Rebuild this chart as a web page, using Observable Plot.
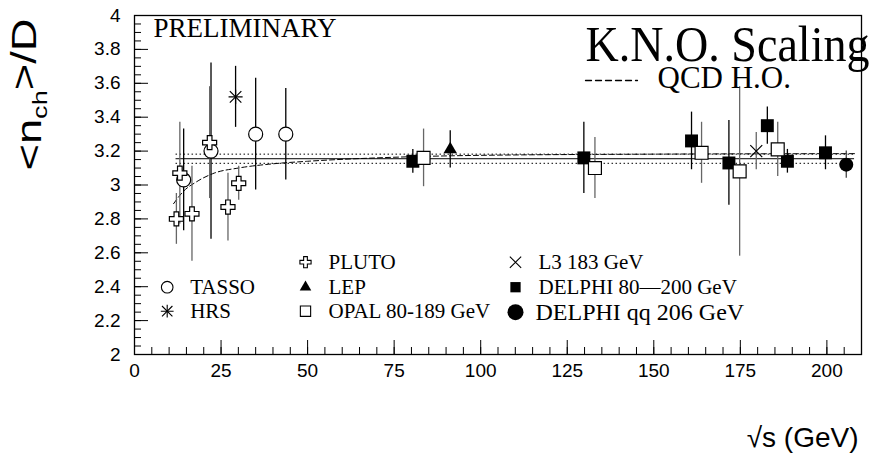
<!DOCTYPE html>
<html>
<head>
<meta charset="utf-8">
<script src="https://cdn.jsdelivr.net/npm/d3@7"></script>
<script src="https://cdn.jsdelivr.net/npm/@observablehq/plot@0.6"></script>
<style>
  html, body { margin: 0; padding: 0; background: #fff; }
  #chart svg { display: block; }
</style>
</head>
<body>
<div id="chart"></div>
<script>
// ---------- data ----------
const xTicks = [0, 25, 50, 75, 100, 125, 150, 175, 200];
const yTicks = [2, 2.2, 2.4, 2.6, 2.8, 3, 3.2, 3.4, 3.6, 3.8, 4];

const tassoX = [14.2, 22.1, 35, 43.7];
const tassoY = [3.03, 3.20, 3.30, 3.30];
const tassoErr = [0.30, 0.52, 0.33, 0.27];

const plutoX = [12.1, 13.1, 16.6, 21.7, 27.0, 30.1];
const plutoY = [2.80, 3.07, 2.83, 3.25, 2.87, 3.01];
const plutoErr = [0.15, 0.30, 0.28, 0.33, 0.20, 0.10];

const hrsX = [29.2];
const hrsY = [3.52];
const hrsErr = [0.18];

const lepX = [91.2];
const lepY = [3.21];
const lepErr = [0.11];

const delphiX = [80.4, 129.8, 160.9, 171.7, 182.8, 188.6, 199.6];
const delphiY = [3.14, 3.16, 3.26, 3.13, 3.35, 3.14, 3.19];
const delphiErr = [0.07, 0.21, 0.17, 0.25, 0.11, 0.07, 0.10];

const opalX = [83.5, 133.0, 163.8, 174.8, 185.8];
const opalY = [3.16, 3.10, 3.19, 3.08, 3.21];
const opalErr = [0.17, 0.18, 0.18, 0.50, 0.16];

const l3X = [179.6];
const l3Y = [3.20];
const l3Err = [0.11];

const qqX = [205.6];
const qqY = [3.12];
const qqErr = [0.08];

// constant fit (mean and its error band) and the QCD H.O. curve
const fitMean = 3.155;
const fitErr = 0.027;
const fitRange = [12, 208];
const qcdX = [11.3, 14, 18, 23, 30, 40, 50, 70, 100, 150, 208];
const qcdY = [2.89, 2.96, 3.02, 3.07, 3.10, 3.125, 3.14, 3.16, 3.175, 3.182, 3.185];

const legendLabels = ["TASSO", "HRS", "PLUTO", "LEP", "OPAL 80-189 GeV", "L3 183 GeV", "DELPHI 80\u2014200 GeV", "DELPHI qq 206 GeV"];

// ---------- build ----------
const W = 880, H = 463, mL = 134, mR = 19, mT = 15, mB = 109;
const plotW = W - mL - mR, plotH = H - mT - mB;
const rows = (xs, ys, es) => xs.map((x, i) => ({x, y: ys[i], e: es[i]}));
const serif = "Liberation Serif, Times New Roman, serif";
const sans = "Liberation Sans, Arial, Helvetica, sans-serif";

const series = [
  {name: "TASSO", data: rows(tassoX, tassoY, tassoErr), symbol: "circle", r: 7, fill: "white", stroke: "black", bar: "black"},
  {name: "PLUTO", data: rows(plutoX, plutoY, plutoErr), symbol: "cross", r: 5.9, fill: "white", stroke: "black", bar: "#666"},
  {name: "HRS", data: rows(hrsX, hrsY, hrsErr), symbol: "plus", r: 4.6, fill: "none", stroke: "black", bar: "black", extra: {symbol: "times", r: 5.3}},
  {name: "LEP", data: rows(lepX, lepY, lepErr), symbol: "triangle", r: 5, fill: "black", stroke: "none", bar: "black"},
  {name: "DELPHI", data: rows(delphiX, delphiY, delphiErr), symbol: "square", r: 7.3, fill: "black", stroke: "none", bar: "black"},
  {name: "OPAL", data: rows(opalX, opalY, opalErr), symbol: "square", r: 7.3, fill: "white", stroke: "black", bar: "#666"},
  {name: "L3", data: rows(l3X, l3Y, l3Err), symbol: "times", r: 5.5, fill: "none", stroke: "black", bar: "#666"},
  {name: "DELPHIqq", data: rows(qqX, qqY, qqErr), symbol: "circle", r: 7, fill: "black", stroke: "none", bar: "#444"}
];

const marks = [];

// fit lines and QCD curve
marks.push(Plot.ruleY([fitMean], {x1: fitRange[0], x2: fitRange[1], stroke: "black", strokeWidth: 1}));
marks.push(Plot.ruleY([fitMean - fitErr, fitMean + fitErr], {x1: fitRange[0], x2: fitRange[1], stroke: "black", strokeWidth: 1, strokeDasharray: "1.5,2.5"}));
marks.push(Plot.line(qcdX.map((x, i) => ({x, y: qcdY[i]})), {x: "x", y: "y", curve: "monotone-x", stroke: "black", strokeWidth: 1, strokeDasharray: "5,3"}));

// error bars then markers
for (const s of series) {
  marks.push(Plot.ruleX(s.data, {x: "x", y1: d => d.y - d.e, y2: d => d.y + d.e, stroke: s.bar, strokeWidth: 1.3}));
}
for (const s of series) {
  marks.push(Plot.dot(s.data, {x: "x", y: "y", symbol: s.symbol, r: s.r, fill: s.fill, stroke: s.stroke, strokeWidth: 1.2}));
  if (s.extra) marks.push(Plot.dot(s.data, {x: "x", y: "y", symbol: s.extra.symbol, r: s.extra.r, fill: "none", stroke: s.stroke, strokeWidth: 1.2}));
}

// ticks drawn inside the frame (major and minor)
const xMinor = d3.range(0, 211, 5);
const yMinor = d3.range(0, 41).map(i => 2 + i * 0.05);
marks.push(Plot.ruleX(xMinor, {x: d => d, insetTop: plotH - 7, stroke: "black", strokeWidth: 1}));
marks.push(Plot.ruleX(xTicks, {x: d => d, insetTop: plotH - 14, stroke: "black", strokeWidth: 1}));
marks.push(Plot.ruleY(yMinor, {y: d => d, insetRight: plotW - 7, stroke: "black", strokeWidth: 1}));
marks.push(Plot.ruleY(yTicks, {y: d => d, insetRight: plotW - 14, stroke: "black", strokeWidth: 1}));
marks.push(Plot.axisX(xTicks, {tickSize: 0, tickPadding: 9, tickFormat: d => String(d), label: null, fontSize: 19, fontFamily: sans}));
marks.push(Plot.axisY(yTicks, {tickSize: 0, tickPadding: 14, tickFormat: d => String(d), label: null, fontSize: 19, fontFamily: sans}));
marks.push(Plot.frame({stroke: "black", strokeWidth: 1.3}));

// titles and annotations
marks.push(Plot.text(["<nch>/D"], {frameAnchor: "top-left", text: d => d, rotate: -90, textAnchor: "end", lineAnchor: "bottom", dx: -94, dy: 3, fontSize: 35, fontFamily: sans}));
marks.push(Plot.text(["\u221As (GeV)"], {frameAnchor: "bottom-right", text: d => d, textAnchor: "end", lineAnchor: "bottom", dx: -3, dy: 92, fontSize: 28, fontFamily: sans}));
marks.push(Plot.text(["PRELIMINARY"], {frameAnchor: "top-left", text: d => d, textAnchor: "start", lineAnchor: "bottom", dx: 19, dy: 21, fontSize: 27, fontFamily: serif}));
marks.push(Plot.text(["K.N.O. Scaling"], {frameAnchor: "top-left", text: d => d, textAnchor: "start", lineAnchor: "bottom", dx: 451, dy: 45, fontSize: 51, fontFamily: serif}));
marks.push(Plot.text(["QCD H.O."], {frameAnchor: "top-left", text: d => d, textAnchor: "start", lineAnchor: "bottom", dx: 523, dy: 72, fontSize: 31, fontFamily: serif}));
const hLine = {draw(context, l) { context.moveTo(0, 0); context.lineTo(0, -l); }};
marks.push(Plot.vector([0], {frameAnchor: "top-left", dx: 451, dy: 65, length: 52, rotate: 90, anchor: "start", shape: hLine, stroke: "black", strokeWidth: 1.3, strokeDasharray: "6,4"}));

// legend (pixel offsets from the frame's top-left corner)
const legendLayout = [
  {label: legendLabels[0], col: 32.7, row: 271.7, symbol: "circle", r: 5.8, fill: "white", stroke: "black"},
  {label: legendLabels[1], col: 32.7, row: 295.7, symbol: "plus", r: 4.2, fill: "none", stroke: "black", extra: {symbol: "times", r: 4.8}},
  {label: legendLabels[2], col: 171, row: 246.7, symbol: "cross", r: 4.7, fill: "white", stroke: "black"},
  {label: legendLabels[3], col: 171, row: 271.7, symbol: "triangle", r: 4.3, fill: "black", stroke: "none"},
  {label: legendLabels[4], col: 171, row: 295.7, symbol: "square", r: 5.8, fill: "white", stroke: "black"},
  {label: legendLabels[5], col: 381, row: 246.7, symbol: "times", r: 5.2, fill: "none", stroke: "black"},
  {label: legendLabels[6], col: 381, row: 271.7, symbol: "square", r: 5.8, fill: "black", stroke: "none"},
  {label: legendLabels[7], col: 381, row: 296.7, symbol: "circle", r: 8, fill: "black", stroke: "none", big: true}
];
for (const e of legendLayout) {
  marks.push(Plot.dot([e], {frameAnchor: "top-left", dx: e.col, dy: e.row, symbol: e.symbol, r: e.r, fill: e.fill, stroke: e.stroke, strokeWidth: 1.1}));
  if (e.extra) marks.push(Plot.dot([e], {frameAnchor: "top-left", dx: e.col, dy: e.row, symbol: e.extra.symbol, r: e.extra.r, fill: "none", stroke: e.stroke, strokeWidth: 1.1}));
  marks.push(Plot.text([e], {frameAnchor: "top-left", text: "label", dx: e.col + (e.big ? 20 : 23), dy: e.row, textAnchor: "start", lineAnchor: "middle", fontSize: e.big ? 24 : 21, fontFamily: serif}));
}

const chart = Plot.plot({
  width: W,
  height: H,
  marginLeft: mL,
  marginRight: mR,
  marginTop: mT,
  marginBottom: mB,
  x: {domain: [0, 210]},
  y: {domain: [2, 4]},
  style: {fontFamily: sans, fontSize: "19px", background: "white", color: "black", overflow: "visible"},
  marks
});
document.getElementById("chart").append(chart);

// subscript and condensed title text
const byContent = s => d3.select(chart).selectAll("text").filter(function() { return this.textContent === s; });
const yt = byContent("<nch>/D");
yt.text(null);
yt.append("tspan").text("<n");
yt.append("tspan").attr("font-size", "60%").attr("dy", "0.3em").text("ch");
yt.append("tspan").attr("dy", "-0.3em").text(">/D");
yt.attr("textLength", 152).attr("lengthAdjust", "spacingAndGlyphs");
byContent("K.N.O. Scaling").attr("textLength", 284).attr("lengthAdjust", "spacingAndGlyphs");
</script>
</body>
</html>
